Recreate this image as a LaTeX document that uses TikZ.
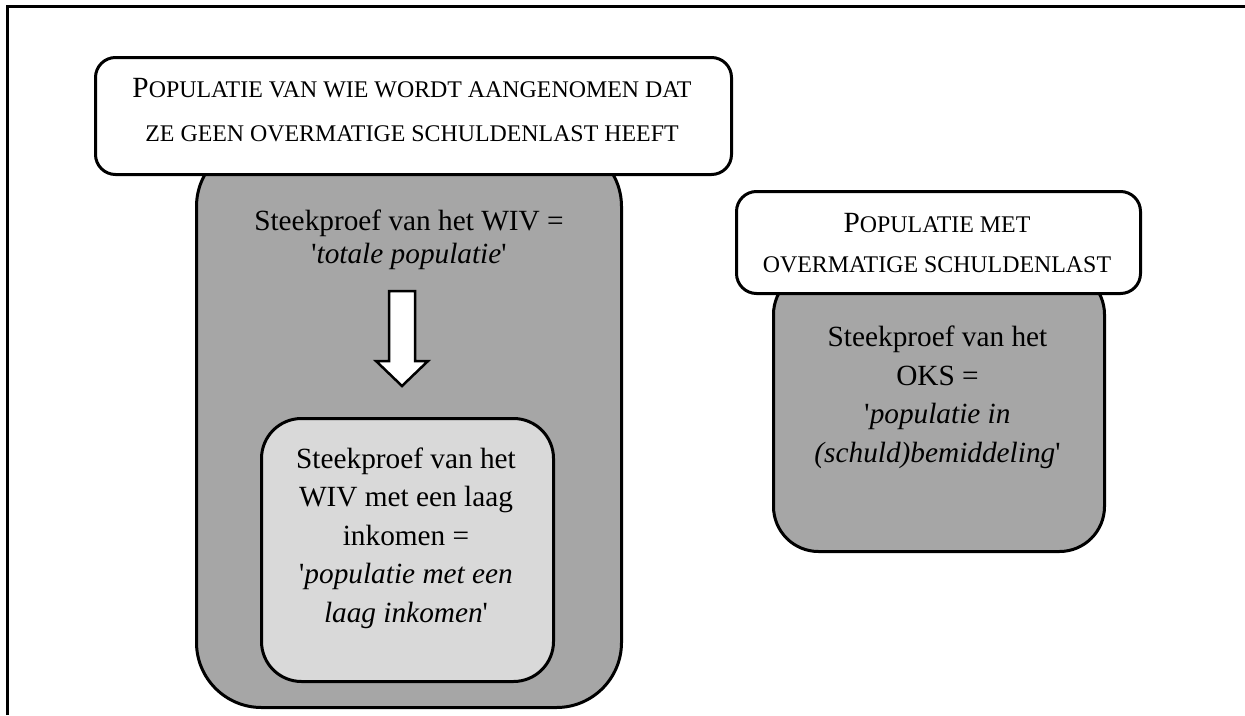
\documentclass[tikz,border=0pt]{standalone}
\usepackage{fontspec}
\setmainfont{Liberation Serif}
\newfontfamily\scf[Scale=0.815]{Liberation Serif}
\definecolor{dgray}{HTML}{A6A6A6}
\definecolor{lgray}{HTML}{D9D9D9}
\newcommand{\apo}{\textquotesingle}
\tikzset{
  frameline/.style={line width=2.5pt},
  panel/.style={draw, line width=3pt, rounded corners=#1, inner sep=0pt, anchor=north west},
  body/.style={align=center, inner sep=0pt, anchor=base, font=\fontsize{29.3}{#1}\selectfont},
  body/.default=38.5,
  labeltext/.style={align=center, inner sep=0pt, anchor=base, font=\fontsize{29.3}{#1}\selectfont},
  blockarrow/.style={draw, fill=white, line width=2.5pt, line join=miter}
}
\begin{document}
\begin{tikzpicture}[x=1pt,y=-1pt]
\useasboundingbox (0,0) rectangle (1245,715);
\fill[white] (0,0) rectangle (1245,715);
% frame
\coordinate (fBL) at (7.5,715);
\coordinate (fTL) at (7.5,6.5);
\coordinate (fTR) at (1245,6.5);
\draw[frameline] (fBL) -- (fTL) -- (fTR);
% left group
\node[panel=65pt, fill=dgray, minimum width=425pt, minimum height=566pt] (big) at (195,140) {};
\node[panel=20pt, fill=white, minimum width=636pt, minimum height=117pt] (lab1) at (94,56) {};
\node[labeltext=44] (lab1t) at (412,141) {P{\scf OPULATIE VAN WIE WORDT AANGENOMEN DAT}\\{\scf ZE GEEN OVERMATIGE SCHULDENLAST HEEFT}};
\node[body=33] (bigt) at (409,263) {Steekproef van het WIV =\\\apo\textit{totale populatie}\apo};
\draw[blockarrow] (389,291) -- (415,291) -- (415,361) -- (428,361) -- (402,386) -- (376,361) -- (389,361) -- cycle;
\node[panel=40pt, fill=lgray, minimum width=292pt, minimum height=263pt] (inner) at (260,417) {};
\node[body] (innert) at (406,622) {Steekproef van het\\WIV met een laag\\inkomen =\\\apo\textit{populatie met een}\\\textit{laag inkomen}\apo};
% right group
\node[panel=45pt, fill=dgray, minimum width=331pt, minimum height=282pt] (oks) at (772,268) {};
\node[panel=20pt, fill=white, minimum width=404pt, minimum height=102pt] (lab2) at (735,190) {};
\node[labeltext=40] (lab2t) at (937,272) {P{\scf OPULATIE MET}\\{\scf OVERMATIGE SCHULDENLAST}};
\node[body] (okst) at (937.5,462) {Steekproef van het\\OKS =\\\apo\textit{populatie in}\\\textit{(schuld)bemiddeling}\apo};
\end{tikzpicture}
\end{document}
